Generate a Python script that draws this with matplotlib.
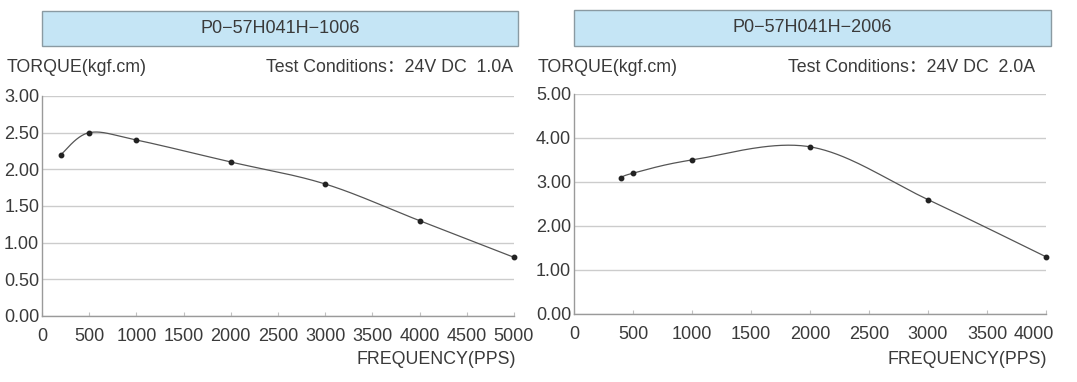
import matplotlib
matplotlib.use("Agg")
import matplotlib.pyplot as plt
import matplotlib.transforms as mtransforms
from matplotlib.patches import Rectangle
import numpy as np

plt.rcParams['font.family'] = ['Liberation Sans', 'Noto Sans CJK SC', 'DejaVu Sans']

# left motor
freq_1 = [200, 500, 1000, 2000, 3000, 4000, 5000]
torque_1 = [2.2, 2.5, 2.4, 2.1, 1.8, 1.3, 0.8]
# right motor
freq_2 = [400, 500, 1000, 2000, 3000, 4000]
torque_2 = [3.1, 3.2, 3.5, 3.8, 2.6, 1.3]

titles = ["P0\u221257H041H\u22121006", "P0\u221257H041H\u22122006"]
conditions = ["Test Conditions\uff1a24V DC  1.0A", "Test Conditions\uff1a24V DC  2.0A"]
xmax = [5000, 4000]
ymax = [3.0, 5.0]
ystep = [0.5, 1.0]
xtick_list = [list(range(0, 5001, 500)), list(range(0, 4001, 500))]

TXT = "#3a3a3a"
GRID = "#cccccc"
W, H = 1077, 382


def smooth(xs, ys, sx, sy, n=40):
    # excel-like smoothed line: bezier with control points from neighbours (1/6)
    p = np.column_stack([np.array(xs) / sx, np.array(ys) / sy])
    out = []
    for i in range(len(p) - 1):
        p0 = p[i - 1] if i > 0 else p[i]
        p1, p2 = p[i], p[i + 1]
        p3 = p[i + 2] if i + 2 < len(p) else p[i + 1]
        c1 = p1 + (p2 - p0) / 6
        c2 = p2 - (p3 - p1) / 6
        t = np.linspace(0, 1, n)[:, None]
        seg = (1 - t) ** 3 * p1 + 3 * (1 - t) ** 2 * t * c1 + 3 * (1 - t) * t ** 2 * c2 + t ** 3 * p2
        out.append(seg)
    out = np.vstack(out)
    return out[:, 0] * sx, out[:, 1] * sy


fig = plt.figure(figsize=(W / 100, H / 100), dpi=100)

# pixel boxes (left, top, right, bottom)
ax_px = [(42, 96, 514, 316), (574, 94, 1046, 314)]
box_px = [(42, 11, 518, 46), (574, 10, 1051, 46)]
torque_x = [7, 538]
cond_x = [513, 1035]
freq_x = [516, 1047]
data = [(freq_1, torque_1), (freq_2, torque_2)]

for k in range(2):
    l, t, r, b = ax_px[k]
    ax = fig.add_axes([l / W, 1 - b / H, (r - l) / W, (b - t) / H])
    fx, ty = data[k]
    sx, sy = smooth(fx, ty, xmax[k], ymax[k] * 0.5)
    ax.plot(sx, sy, color="#555555", lw=0.9, zorder=3, clip_on=False)
    ax.plot(fx, ty, "o", color="#222222", ms=3.2, zorder=4, clip_on=False)

    ax.set_xlim(0, xmax[k])
    ax.set_ylim(0, ymax[k])
    yt = np.arange(0, ymax[k] + 1e-9, ystep[k])
    ax.set_yticks(yt)
    ax.set_yticklabels([f"{v:.2f}" for v in yt])
    ax.set_xticks(xtick_list[k])
    ax.set_xticklabels([str(v) for v in xtick_list[k]])
    ax.grid(axis="y", color=GRID, lw=1.0)
    ax.set_axisbelow(True)
    for s in ["top", "right"]:
        ax.spines[s].set_visible(False)
    for s in ["left", "bottom"]:
        ax.spines[s].set_color("#9a9a9a")
        ax.spines[s].set_linewidth(1.0)
    ax.tick_params(axis="y", length=0, pad=2, labelsize=13, labelcolor=TXT)
    ax.tick_params(axis="x", direction="in", length=3, color="#c0c0c0",
                   pad=8.5, labelsize=13, labelcolor=TXT)
    if k == 1:
        lab = ax.get_xticklabels()[-1]
        lab.set_transform(lab.get_transform() +
                          mtransforms.ScaledTranslation(-0.12, 0, fig.dpi_scale_trans))

    fig.text(freq_x[k] / W, 1 - 360 / H, "FREQUENCY(PPS)", ha="right", va="center",
             fontsize=12.8, color=TXT)
    fig.text(torque_x[k] / W, 1 - 68 / H, "TORQUE(kgf.cm)", ha="left", va="center",
             fontsize=12.8, color=TXT)
    fig.text(cond_x[k] / W, 1 - 68 / H, conditions[k], ha="right", va="center",
             fontsize=12.8, color=TXT)

    bl, bt, br, bb = box_px[k]
    fig.patches.append(Rectangle((bl / W, 1 - bb / H), (br - bl) / W, (bb - bt) / H,
                                 transform=fig.transFigure,
                                 facecolor="#c5e5f5", edgecolor="#8a9aa2", lw=1.0))
    fig.text((bl + br) / 2 / W, 1 - (bt + bb) / 2 / H, titles[k], ha="center", va="center",
             fontsize=13, color=TXT)

fig.savefig("out.png", dpi=100)
